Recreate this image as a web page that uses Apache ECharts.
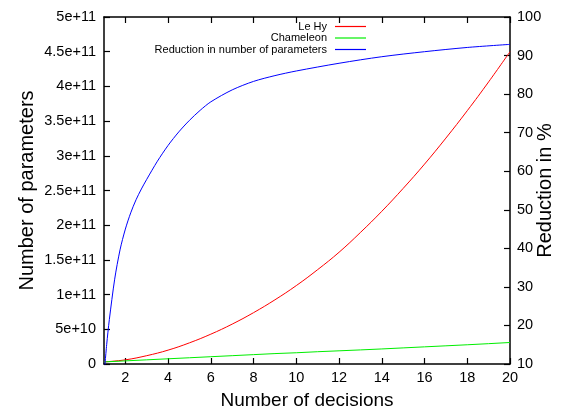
<!DOCTYPE html>
<html>
<head>
<meta charset="utf-8">
<script src="https://cdn.jsdelivr.net/npm/echarts@6/dist/echarts.min.js"></script>
<style>html,body{margin:0;padding:0;background:#fff}#c{width:563px;height:413px}</style>
</head>
<body>
<div id="c"></div>
<script>
// Data
const decisions = [1,2,3,4,5,6,7,8,9,10,11,12,13,14,15,16,17,18,19,20];
const leHy = [0.3e10,0.6e10,1.2e10,2.0e10,3.05e10,4.3e10,5.75e10,7.4e10,9.25e10,1.13e11,1.36e11,1.61e11,1.895e11,2.2e11,2.53e11,2.88e11,3.255e11,3.65e11,4.065e11,4.5e11];
const chameleon = [0.3e10,0.45e10,0.6e10,0.75e10,0.9e10,1.05e10,1.2e10,1.35e10,1.5e10,1.62e10,1.77e10,1.9e10,2.03e10,2.17e10,2.32e10,2.47e10,2.62e10,2.77e10,2.93e10,3.1e10];
const reductionX = [1,1.125,1.25,1.5,1.75,2,2.25,2.5,2.75,3,3.5,4,4.5,5,5.5,6,7,8,9,10,12,14,16,18,20];
const reduction = [7,15,21.5,32,39.6,45,49.2,52.6,55.4,57.9,62.6,66.7,70.2,73.2,75.8,78,81.1,83.3,84.8,86,88,89.7,91,92.1,92.9];
const xTicks = [2,4,6,8,10,12,14,16,18,20];
const seriesNames = ['Le Hy','Chameleon','Reduction in number of parameters'];
const seriesColors = ['#ff0000','#00ee00','#0000ff'];

const font = 'Liberation Sans, Arial, Helvetica, sans-serif';
const chart = echarts.init(document.getElementById('c'), null, {renderer:'canvas'});
const pair = (xs, ys) => xs.map((x,i)=>[x, ys[i]]);
const axisLine = {show:true, lineStyle:{color:'#000', width:1.5}};
const tick = {show:true, inside:true, length:6, lineStyle:{color:'#000', width:1.2}};

chart.setOption({
  animation:false,
  backgroundColor:'#fff',
  grid:{left:104, right:53, top:17, bottom:49, containLabel:false, outerBoundsMode:'none'},
  legend:{
    orient:'vertical', right:192, top:16, align:'right',
    itemWidth:31, itemHeight:11, itemGap:0.5,
    textStyle:{fontFamily:font, fontSize:11, color:'#000', padding:[0,3,0,0]},
    data:seriesNames.map((n,i)=>({name:n, icon:'path://M0,0L31,0L31,1.2L0,1.2Z',
      itemStyle:{color:seriesColors[i], borderWidth:0}}))
  },
  xAxis:[{
    type:'value', min:1, max:20, position:'bottom',
    name:'Number of decisions', nameLocation:'middle', nameGap:27, nameMoveOverlap:false,
    nameTextStyle:{fontFamily:font, fontSize:19, color:'#000'},
    axisLine:axisLine,
    axisTick:Object.assign({customValues:xTicks}, tick),
    axisLabel:{fontFamily:font, fontSize:14.5, color:'#000', margin:6, customValues:xTicks},
    splitLine:{show:false}
  },{
    type:'value', min:1, max:20, position:'top',
    axisLine:axisLine,
    axisTick:Object.assign({customValues:xTicks}, tick),
    axisLabel:{show:false, customValues:xTicks},
    splitLine:{show:false}
  }],
  yAxis:[{
    type:'value', min:0, max:5e11, interval:5e10, position:'left',
    name:'Number of parameters', nameLocation:'middle', nameGap:67, nameRotate:90, nameMoveOverlap:false,
    nameTextStyle:{fontFamily:font, fontSize:20, color:'#000'},
    axisLine:axisLine,
    axisTick:tick,
    axisLabel:{fontFamily:font, fontSize:14.5, color:'#000', margin:8,
      formatter:v => v===0 ? '0' : v.toExponential()},
    splitLine:{show:false}
  },{
    type:'value', min:10, max:100, interval:10, position:'right',
    name:'Reduction in %', nameLocation:'middle', nameGap:25, nameRotate:90, nameMoveOverlap:false,
    nameTextStyle:{fontFamily:font, fontSize:20, color:'#000'},
    axisLine:axisLine,
    axisTick:tick,
    axisLabel:{fontFamily:font, fontSize:14.5, color:'#000', margin:7},
    splitLine:{show:false}
  }],
  series:[{
    name:seriesNames[0], type:'line', xAxisIndex:0, yAxisIndex:0, symbol:'none', smooth:0.4,
    data:pair(decisions, leHy), lineStyle:{color:seriesColors[0], width:1}, itemStyle:{color:seriesColors[0]}
  },{
    name:seriesNames[1], type:'line', xAxisIndex:0, yAxisIndex:0, symbol:'none',
    data:pair(decisions, chameleon), lineStyle:{color:seriesColors[1], width:1}, itemStyle:{color:seriesColors[1]}
  },{
    name:seriesNames[2], type:'line', xAxisIndex:0, yAxisIndex:1, symbol:'none', smooth:0.3,
    data:pair(reductionX, reduction), lineStyle:{color:seriesColors[2], width:1}, itemStyle:{color:seriesColors[2]}
  }]
});
</script>
</body>
</html>
